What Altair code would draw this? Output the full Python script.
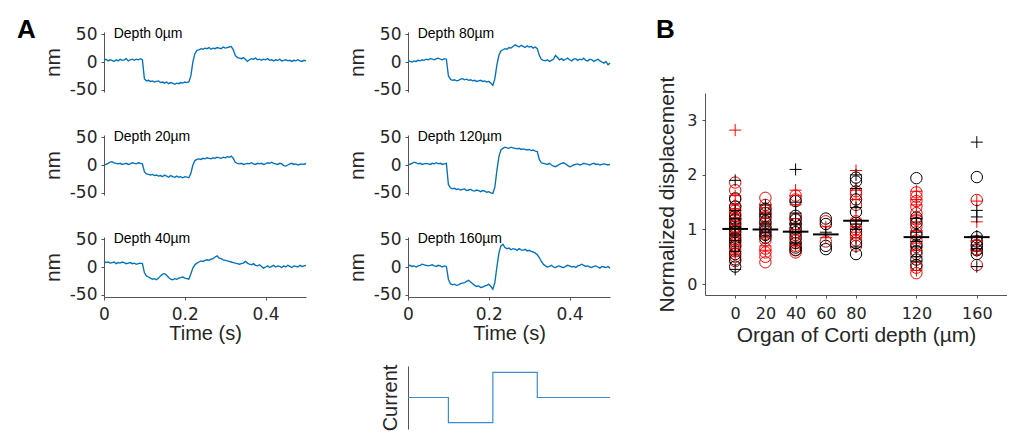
import altair as alt
import pandas as pd

# ---------------- Panel A: displacement traces (nm), sampled every 5 ms ----------------
TRACE_0 = [3, 5, 2, 4, 3, 1, 4, 2, 5, 3, 4, 6, 2, 4, 5, 3, 5, 4, 6, 4,
           -30, -34, -33, -35, -34, -36, -35, -34, -37, -36, -38, -36, -39, -37, -38, -40, -38, -39, -37, -38, -36, -37, -36,
           -25, 0, 15, 21,
           22, 24, 23, 25, 24, 26, 23, 25, 24, 26, 25, 24, 27, 25, 26, 27, 28,
           22, 12, 8,
           7, 6, 8, 5, 1, 4, 6, 5, 7, 4, 5, 3, 5, 4, 6, 3, 4, 2, 4, 3, 5, 2, 3, 4, 2, 3, 1, 3, 2, 4, 2, 1, 3, 2]
TRACE_20 = [0, 1, 3, 5, 6, 4, 3, 2, 3, 1, 2, 3, 1, 2, 4, 3, 2, 4, 3, 2,
            -12, -16, -17, -18, -17, -19, -18, -20, -19, -21, -18, -20, -22, -19, -21, -22, -20, -22, -21, -23, -21, -22, -23,
            -15, 0, 8, 10,
            11, 10, 12, 11, 13, 12, 11, 13, 12, 14, 13, 12, 14, 13, 15, 14, 16,
            12, 5, 3,
            2, 3, 1, 2, 3, 2, 4, 2, 1, 3, 2, 3, 1, 2, 4, 3, 5, 3, 2, 1, 3, 2, -1, -2, 0, 2, 3, 1, 2, 0, 1, 2, 1, 3]
TRACE_40 = [10, 8, 9, 7, 8, 9, 6, 8, 7, 9, 8, 6, 7, 8, 6, 7, 5, 6, 7, 6,
            -10, -16, -18, -20, -22, -21, -23, -20, -16, -13, -12, -15, -19, -22, -23, -21, -22, -20, -19, -18, -20, -21, -22,
            -12, -2, 4, 7,
            9, 11, 10, 12, 13, 12, 14, 15, 18, 20, 16, 15, 13, 12, 11, 10, 9,
            8, 7, 6,
            5, 6, 7, 10, 7, 5, 4, 6, 3, 2, 4, 1, -2, 0, 2, -1, 1, 3, 0, 2, 1, -1, 2, 0, 3, 1, -1, 2, 1, 0, 3, 1, 2, 3]
TRACE_80 = [3, 1, 0, 2, 1, 3, 2, 4, 3, 5, 4, 6, 5, 4, 6, 7, 5, 4, 6, 5,
            -25, -31, -33, -32, -34, -33, -31, -30, -32, -31, -33, -32, -34, -33, -35, -34, -33, -35, -34, -36, -35, -38, -42,
            -30, -5, 12, 20,
            22, 24, 23, 26, 25, 28, 31, 29, 27, 30, 28, 26, 29, 27, 28, 25, 27,
            24, 12, 5,
            3, 2, 4, 1, 3, 5, 12, 8, 4, 6, 3, 5, 7, 4, 2, 5, 6, 3, 5, 4, 7, 3, 2, 5, 4, 1, 3, 5, 2, 0, -2, 1, -5, -2]
TRACE_120 = [2, 1, 3, 5, 4, 2, 3, 1, 2, 3, 2, 1, 3, 2, 4, 2, 3, 1, 2, 3,
             -35, -41, -43, -42, -44, -43, -45, -44, -43, -46, -45, -44, -46, -47, -45, -46, -48, -46, -47, -49, -48, -50, -51,
             -40, -10, 15, 27,
             30, 32, 31, 30, 32, 31, 30, 29, 30, 28, 29, 28, 27, 28, 26, 27, 25,
             24, 10, 4,
             3, 2, 1, 3, 0, -2, -3, -1, 1, 3, 4, 2, -1, -3, -2, 0, 1, 2, 0, 1, 3, 2, 1, 0, 2, 3, 1, 2, 0, 1, 2, 1, 0, 1]
TRACE_160 = [2, 3, 1, 2, 0, 2, 3, 5, 4, 3, 2, 3, 4, 2, 1, 3, 2, 0, 2, 1,
             -22, -30, -32, -31, -33, -32, -30, -29, -28, -26, -24, -27, -30, -33, -35, -34, -37, -36, -34, -33, -31, -35, -40,
             -28, 0, 25, 38,
             41, 35, 33, 34, 31, 33, 32, 30, 33, 31, 30, 32, 29, 30, 28, 27, 25,
             22, 17, 10,
             5, 2, 0, 1, 3, 0, -1, 1, 2, 0, -1, 1, 3, 2, 0, 1, -1, 2, 3, 5, 3, 1, 2, 0, -1, 1, 2, 0, -2, 1, 0, -1, 1, -2]
SAMPLE_STEP = 0.005

# stimulus current (step levels, arbitrary units)
CURRENT_T = [0.0, 0.1, 0.21, 0.32, 0.5]
CURRENT_V = [0, -1, 1, 0, 0]

# ---------------- Panel B: normalized displacement vs depth ----------------
DEPTHS = [0, 20, 40, 60, 80, 120, 160]
MEANS = [1.01, 1.0, 0.96, 0.91, 1.16, 0.86, 0.86]
RED_CIRCLE = {
    0: [1.86, 1.72, 1.55, 1.42, 1.35, 1.28, 1.2, 1.12, 1.05, 0.98, 0.9, 0.82, 0.75, 0.68, 0.6, 0.5, 0.42],
    20: [1.58, 1.45, 1.35, 1.25, 1.12, 1.02, 0.92, 0.8, 0.65, 0.58, 0.5, 0.4],
    40: [1.62, 1.55, 1.2, 1.1, 1.0, 0.9, 0.8, 0.7, 0.63, 0.58],
    60: [1.15, 0.78],
    80: [1.7, 1.65, 1.45, 1.15, 1.0, 0.9, 0.8, 0.7],
    120: [1.68, 1.6, 1.52, 1.42, 1.3, 1.18, 1.05, 0.95, 0.8, 0.68, 0.55, 0.3, 0.2],
    160: [1.54, 0.72, 0.64, 0.35],
}
RED_PLUS = {
    0: [2.82, 1.62, 1.45, 1.38, 1.3, 1.22, 1.15, 1.08, 1.0, 0.95, 0.88, 0.8, 0.72, 0.65, 0.55],
    20: [1.4, 1.3, 1.2, 1.1, 0.95, 0.85, 0.7, 0.62],
    40: [1.72, 1.62, 1.45, 1.2, 1.0, 0.85, 0.7],
    60: [1.05, 0.85],
    80: [2.08, 1.72, 1.55, 1.18, 1.05, 0.95, 0.85],
    120: [1.7, 1.55, 1.45, 1.25, 1.1, 0.98, 0.85, 0.75, 0.62, 0.4, 0.25],
    160: [1.52, 1.14, 0.8, 0.6],
}
BLACK_CIRCLE = {
    0: [1.57, 1.42, 1.25, 1.18, 1.1, 1.02, 0.95, 0.85, 0.78, 0.7, 0.55, 0.45, 0.32],
    20: [1.38, 1.3, 1.22, 1.15, 1.05, 0.98, 0.9, 0.85],
    40: [1.52, 1.25, 1.18, 1.1, 1.02, 0.95, 0.85, 0.75, 0.67, 0.62],
    60: [1.2, 1.1, 0.7, 0.64],
    80: [1.95, 1.88, 1.55, 1.32, 1.12, 0.95, 0.75, 0.55],
    120: [1.94, 1.22, 1.12, 0.9, 0.72, 0.6, 0.45, 0.35],
    160: [1.96, 0.86, 0.78, 0.7, 0.62, 0.55],
}
BLACK_PLUS = {
    0: [1.9, 1.35, 1.2, 1.05, 0.9, 0.8, 0.6, 0.27],
    20: [1.45, 1.28, 1.1, 0.95, 0.88],
    40: [2.1, 1.5, 1.3, 1.1, 0.95, 0.75],
    60: [0.95],
    80: [2.0, 1.75, 1.4, 1.1, 1.0, 0.68],
    120: [1.2, 0.95, 0.78, 0.68, 0.5, 0.42],
    160: [2.6, 1.35, 1.23, 0.88, 0.65, 0.32],
}

# ---------------- styles ----------------
BLUE = "#0072BD"
CUR_BLUE = "#3b8ed6"
AXC = "#555555"
TXC = "#262626"
TXT_FONT = "Liberation Sans"
TICK_FONT = "DejaVu Sans"
MEAN_HALF = 8.5


def y_axis_nm():
    return alt.Axis(values=[-50, 0, 50], title="nm", labelExpr="datum.value + ''",
                    labelFont=TICK_FONT, labelFontSize=17, tickSize=3, labelPadding=4,
                    titleFont=TXT_FONT, titleFontSize=21, titlePadding=6, grid=False)


def x_axis_time():
    return alt.Axis(values=[0, 0.2, 0.4], title="Time (s)", labelExpr="datum.value + ''",
                    labelFont=TICK_FONT, labelFontSize=17, tickSize=3, labelPadding=6,
                    titleFont=TXT_FONT, titleFontSize=20, titlePadding=1,
                    labelFlush=False, grid=False)


def trace(vals, depth, height, bottom, letter=None):
    df = pd.DataFrame({"t": [round(i * SAMPLE_STEP, 3) for i in range(len(vals))], "nm": vals})
    xax = x_axis_time() if bottom else None
    xenc = alt.X("t:Q", scale=alt.Scale(domain=[0, 0.5]), axis=xax)
    yenc = alt.Y("nm:Q", scale=alt.Scale(domain=[-54, 54], range=[66, 6]), axis=y_axis_nm())
    line = alt.Chart(df).mark_line(color=BLUE, strokeWidth=1.35).encode(x=xenc, y=yenc)
    lab_df = pd.DataFrame({"t": [0.024], "nm": [51], "txt": [f"Depth {depth}µm"]})
    lab = alt.Chart(lab_df).mark_text(align="left", baseline="middle", font=TXT_FONT,
                                      fontSize=14, color="black").encode(x=xenc, y=yenc, text="txt:N")
    layers = [line, lab]
    if letter:
        let = alt.Chart(pd.DataFrame({"txt": [letter]})).mark_text(
            align="left", baseline="alphabetic", font=TXT_FONT, fontSize=26,
            fontWeight="bold", color="black").encode(x=alt.value(-87), y=alt.value(12), text="txt:N")
        layers.append(let)
    return alt.layer(*layers).properties(width=202, height=height)


col1 = alt.vconcat(
    trace(TRACE_0, 0, 102, False, "A"),
    trace(TRACE_20, 20, 101, False),
    trace(TRACE_40, 40, 66, True),
    spacing=0,
).resolve_scale(x="independent", y="independent")

col2_top = alt.vconcat(
    trace(TRACE_80, 80, 102, False),
    trace(TRACE_120, 120, 101, False),
    trace(TRACE_160, 160, 66, True),
    spacing=0,
).resolve_scale(x="independent", y="independent")

cur_df = pd.DataFrame({"t": CURRENT_T, "v": CURRENT_V})
current = alt.Chart(cur_df).mark_line(interpolate="step-after", color=CUR_BLUE, strokeWidth=1.2).encode(
    x=alt.X("t:Q", scale=alt.Scale(domain=[0, 0.5]), axis=None),
    y=alt.Y("v:Q", scale=alt.Scale(domain=[-1.25, 1.25]),
            axis=alt.Axis(title="Current", labels=False, ticks=False, titleFont=TXT_FONT,
                          titleFontSize=20, titlePadding=8, grid=False)),
).properties(width=202, height=63)

col2 = alt.vconcat(col2_top, current, spacing=21).resolve_scale(x="independent", y="independent")

inner = alt.hconcat(col1, col2, spacing=37).resolve_scale(x="independent", y="independent")

# ---- panel B ----
def group_df(d):
    rows = []
    for dep in DEPTHS:
        for v in d.get(dep, []):
            rows.append({"depth": dep, "val": v})
    return pd.DataFrame(rows)


xaxB = alt.Axis(values=DEPTHS, title="Organ of Corti depth (µm)", labelFont=TICK_FONT,
                labelFontSize=16, tickSize=3, labelPadding=7, titleFont=TXT_FONT,
                titleFontSize=21, titlePadding=3, labelFlush=False, labelOverlap=False, grid=False)
yaxB = alt.Axis(values=[0, 1, 2, 3], title="Normalized displacement", labelFont=TICK_FONT,
                labelFontSize=16, tickSize=3, labelPadding=5, titleFont=TXT_FONT,
                titleFontSize=21, titlePadding=9, grid=False)
xsB = alt.Scale(domain=[-20, 180])
ysB = alt.Scale(domain=[-0.2, 3.5], range=[269, 67])
PLUS = "M-1,0L1,0M0,-1L0,1"


def pts(d, color, shape):
    return alt.Chart(group_df(d)).mark_point(shape=shape, filled=False, size=130 if shape == "circle" else 144,
                                              strokeWidth=1, color=color, opacity=1).encode(
        x=alt.X("depth:Q", scale=xsB, axis=xaxB),
        y=alt.Y("val:Q", scale=ysB, axis=yaxB),
    )


mean_df = pd.DataFrame({"lo": [d - MEAN_HALF for d in DEPTHS], "hi": [d + MEAN_HALF for d in DEPTHS], "val": MEANS})
means = alt.Chart(mean_df).mark_rule(color="black", strokeWidth=2).encode(
    x=alt.X("lo:Q", scale=xsB, axis=xaxB), x2="hi:Q",
    y=alt.Y("val:Q", scale=ysB, axis=yaxB),
)
letterB = alt.Chart(pd.DataFrame({"txt": ["B"]})).mark_text(
    align="left", baseline="alphabetic", font=TXT_FONT, fontSize=26, fontWeight="bold",
    color="black").encode(x=alt.value(-49), y=alt.value(12), text="txt:N")

panelB = alt.layer(
    pts(RED_CIRCLE, "#FF0000", "circle"),
    pts(BLACK_CIRCLE, "#000000", "circle"),
    pts(RED_PLUS, "#FF0000", PLUS),
    pts(BLACK_PLUS, "#000000", PLUS),
    means,
    letterB,
).properties(width=302, height=269)

chart = alt.hconcat(inner, panelB, spacing=43).resolve_scale(
    x="independent", y="independent"
).properties(
    padding={"left": 9, "top": 9, "right": 0, "bottom": 0}
).configure_view(stroke=None).configure_axis(
    domainColor=AXC, tickColor=AXC, labelColor=TXC, titleColor=TXC,
    titleFontWeight="normal", domainWidth=1, tickWidth=1,
)

chart.save("out.html", embed_options={"renderer": "svg", "actions": False})
